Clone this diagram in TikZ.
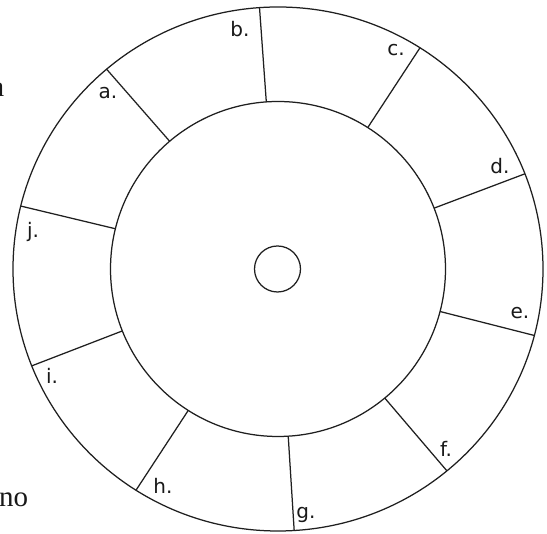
\documentclass[tikz,border=0pt]{standalone}
\usepackage{fontspec}
\setmainfont{Liberation Serif}
\newfontfamily\labelfont{DejaVu Sans}
\begin{document}
\begin{tikzpicture}[x=1pt,y=1pt,
  ring/.style={line width=1.25pt, draw=black!88},
  lbl/.style={font=\labelfont\fontsize{20}{20}\selectfont, anchor=base, inner sep=0pt, text=black!90},
  pagetext/.style={font=\fontsize{29}{29}\selectfont, inner sep=0pt, text=black!90}]
\useasboundingbox (0,0) rectangle (547,534);
\clip (0,0) rectangle (547,534);
\fill[white] (0,0) rectangle (547,534);
\coordinate (c) at (278,265);
\coordinate (hub) at (277.5,265);
\draw[ring] (c) ellipse [x radius=265, y radius=262];
\draw[ring] (c) circle [radius=167.5];
\draw[ring] (hub) circle [radius=23];
\foreach \ang/\nm in {130.3/a, 94/b, 57.6/c, 21.3/d, -14.7/e, -50.4/f, -86.5/g, -122.4/h, -158.3/i, 166.1/j} {
  \coordinate (in-\nm) at ([shift={(c)}]\ang:167.5);
  \coordinate (out-\nm) at ([shift={(c)}]\ang:265 and 262);
  \draw[ring] (in-\nm) -- (out-\nm);
}
\node[lbl] (la) at (108,435) {a.};
\node[lbl] (lb) at (240,497) {b.};
\node[lbl] (lc) at (396,478) {c.};
\node[lbl] (ld) at (500,360) {d.};
\node[lbl] (le) at (520,215) {e.};
\node[lbl] (lf) at (446,77) {f.};
\node[lbl] (lg) at (306,15) {g.};
\node[lbl] (lh) at (163,40) {h.};
\node[lbl] (li) at (52,150) {i.};
\node[lbl] (lj) at (33,296) {j.};
\node[pagetext, anchor=base east] (pa) at (4.5,437) {a};
\node[pagetext, anchor=base west] (pno) at (-1,27) {no};
\end{tikzpicture}
\end{document}
